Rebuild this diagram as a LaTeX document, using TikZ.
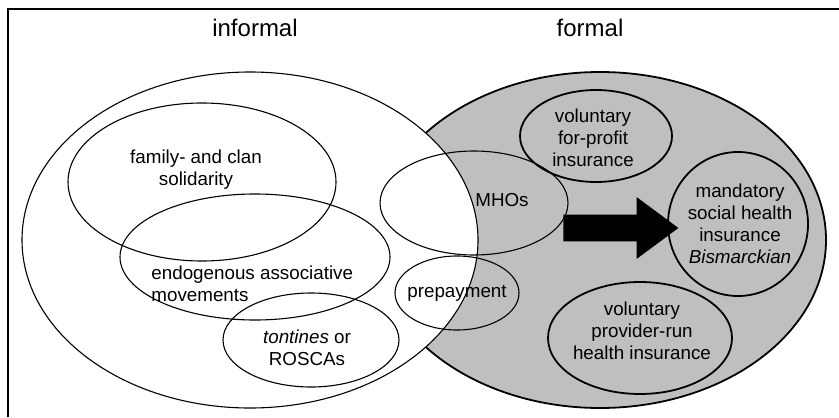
\documentclass[tikz,border=0pt]{standalone}
\usepackage{fontspec}
\setmainfont{Liberation Sans}
\usetikzlibrary{positioning,shapes.geometric,shapes.arrows}

\begin{document}
\begin{tikzpicture}[x=0.5pt, y=-0.5pt,
  oval/.style 2 args={draw, ellipse, inner sep=0pt, line width=0.55pt,
    minimum width=#1pt, minimum height=#2pt},
  fml/.style={line width=0.9pt},
  lab/.style={inner sep=0pt, align=center, font=\fontsize{9.4}{11}\selectfont},
  ttl/.style={inner sep=0pt, font=\fontsize{12}{14}\selectfont}
]
\useasboundingbox (0,0) rectangle (839,417);

% frame, cut off at right and bottom
\draw[line width=1pt] (8,417) -- (8,9) -- (839,9);

\node[ttl] (TInf) at (255,28) {informal};
\node[ttl] (TFor) at (590,28) {formal};

% the two big sets
\node[oval={226}{168}, fml, fill=black!25] (For) at (600,240) {};
\node[oval={228}{168}, fill=white] (Inf) at (250,240) {};

% informal schemes
\node[oval={134}{79}] (Fam) at (202,182) {};
\node[oval={135}{63}] (End) at (255,257) {};
\node[oval={88}{47}]  (Ton) at (311,340) {};

% in between
\node[oval={94}{52}] (MHO) at (474,203) {};
\node[oval={62}{37}] (Pre) at (457,293) {};

% formal schemes
\node[oval={76}{46}, fml] (VFP) at (596,136) {};
\node[oval={70}{72}, fml] (MSH) at (738,224) {};
\node[oval={92}{56}, fml] (VPR) at (640,338) {};

\node[single arrow, fill=black, inner xsep=0pt, inner ysep=6.5pt, anchor=tail,
  minimum height=57.5pt, single arrow head extend=8.75pt,
  single arrow tip angle=73] (Arr) at (563,228) {};

\node[lab] (LFam) at (196,170) {family- and clan\\solidarity};
\node[lab, align=left, anchor=west] (LEnd) at (151,284) {endogenous associative\\movements};
\node[lab] (LTon) at (307,348) {\textit{tontines} or\\ROSCAs};
\node[lab] (LMHO) at (502,200) {MHOs};
\node[lab] (LPre) at (457,293) {prepayment};
\node[lab] (LVFP) at (593,138) {voluntary\\for-profit\\insurance};
\node[lab] (LMSH) at (740,224) {mandatory\\social health\\insurance\\\textit{Bismarckian}};
\node[lab] (LVPR) at (642,331) {voluntary\\provider-run\\health insurance};

\end{tikzpicture}
\end{document}
